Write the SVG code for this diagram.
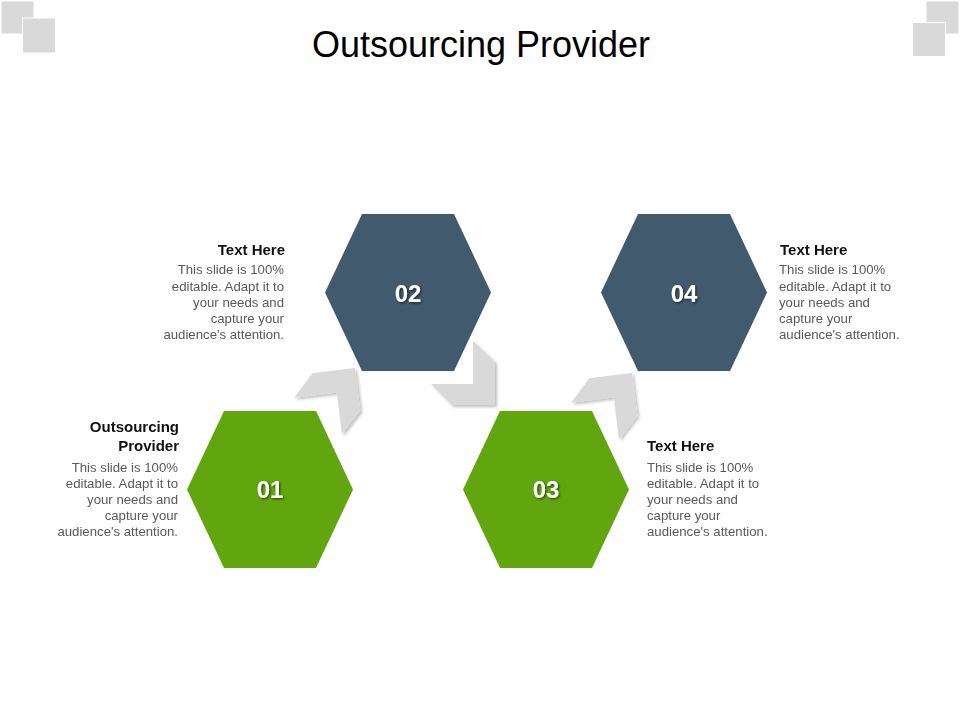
<svg xmlns="http://www.w3.org/2000/svg" width="960" height="720" viewBox="0 0 960 720">
  <defs>
    <style>
      .title { font-family: "Liberation Sans", Arial, sans-serif; font-size: 36px; fill: #000; }
      .num { font-family: "Liberation Sans", Arial, sans-serif; font-size: 24px; font-weight: bold; fill: #fff; text-anchor: middle; }
      .head { font-family: "Liberation Sans", Arial, sans-serif; font-size: 15px; font-weight: bold; fill: #111; }
      .body { font-family: "Liberation Sans", Arial, sans-serif; font-size: 13.2px; fill: #595959; }
      .green { fill: #61a60e; }
      .blue { fill: #415a6d; }
      .chev { fill: #d9d9d9; }
      .sq { fill: #d9d9d9; stroke: #fff; stroke-width: 1; }
    </style>
    <polygon id="hex" points="-83,0 -46,-78.5 46,-78.5 83,0 46,78.5 -46,78.5"/>
    <polygon id="chevron" points="0,0 -43,0 -64,-21 -22,-21 -22,-64 0,-43"/>
    <filter id="shadow" x="-30%" y="-30%" width="160%" height="160%">
      <feDropShadow dx="2" dy="2" stdDeviation="1.8" flood-color="#000" flood-opacity="0.25"/>
    </filter>
    <filter id="tshadow" x="-30%" y="-30%" width="160%" height="160%">
      <feDropShadow dx="1.2" dy="1.2" stdDeviation="0.8" flood-color="#000" flood-opacity="0.6"/>
    </filter>
  </defs>
  <rect width="960" height="720" fill="#fff"/>

  <g id="corner-left">
    <rect class="sq" x="1" y="1" width="33" height="33"/>
    <rect class="sq" x="22.5" y="18" width="33" height="35"/>
  </g>
  <g id="corner-right">
    <rect class="sq" x="926" y="1" width="33" height="33"/>
    <rect class="sq" x="912.5" y="22.5" width="33" height="34"/>
  </g>

  <text id="title" class="title" x="481" y="57" text-anchor="middle">Outsourcing Provider</text>

  <g id="connectors" filter="url(#shadow)">
    <use href="#chevron" class="chev" transform="translate(355,368) rotate(-97)"/>
    <use href="#chevron" class="chev" transform="translate(495,405)"/>
    <use href="#chevron" class="chev" transform="translate(632,373) rotate(-97)"/>
  </g>

  <g id="node-01">
    <use href="#hex" class="green" transform="translate(270,489.5)"/>
    <text class="num" x="270" y="498" filter="url(#tshadow)">01</text>
  </g>
  <g id="node-02">
    <use href="#hex" class="blue" transform="translate(408,292.5)"/>
    <text class="num" x="408" y="301.5" filter="url(#tshadow)">02</text>
  </g>
  <g id="node-03">
    <use href="#hex" class="green" transform="translate(546,489.5)"/>
    <text class="num" x="546" y="498" filter="url(#tshadow)">03</text>
  </g>
  <g id="node-04">
    <use href="#hex" class="blue" transform="translate(684,292.5)"/>
    <text class="num" x="684" y="301.5" filter="url(#tshadow)">04</text>
  </g>

  <g id="text-01" text-anchor="end">
    <text class="head" x="179" y="431.5">Outsourcing</text>
    <text class="head" x="179" y="450.5">Provider</text>
    <text class="body" x="178" y="471.5">This slide is 100%</text>
    <text class="body" x="178" y="487.7">editable. Adapt it to</text>
    <text class="body" x="178" y="503.9">your needs and</text>
    <text class="body" x="178" y="520.1">capture your</text>
    <text class="body" x="178" y="536.3">audience's attention.</text>
  </g>
  <g id="text-02" text-anchor="end">
    <text class="head" x="285" y="255">Text Here</text>
    <text class="body" x="284" y="274.3">This slide is 100%</text>
    <text class="body" x="284" y="290.5">editable. Adapt it to</text>
    <text class="body" x="284" y="306.7">your needs and</text>
    <text class="body" x="284" y="322.9">capture your</text>
    <text class="body" x="284" y="339.1">audience's attention.</text>
  </g>
  <g id="text-03" text-anchor="start">
    <text class="head" x="647" y="450.5">Text Here</text>
    <text class="body" x="647" y="471.5">This slide is 100%</text>
    <text class="body" x="647" y="487.7">editable. Adapt it to</text>
    <text class="body" x="647" y="503.9">your needs and</text>
    <text class="body" x="647" y="520.1">capture your</text>
    <text class="body" x="647" y="536.3">audience's attention.</text>
  </g>
  <g id="text-04" text-anchor="start">
    <text class="head" x="780" y="255">Text Here</text>
    <text class="body" x="779" y="274.3">This slide is 100%</text>
    <text class="body" x="779" y="290.5">editable. Adapt it to</text>
    <text class="body" x="779" y="306.7">your needs and</text>
    <text class="body" x="779" y="322.9">capture your</text>
    <text class="body" x="779" y="339.1">audience's attention.</text>
  </g>
</svg>
